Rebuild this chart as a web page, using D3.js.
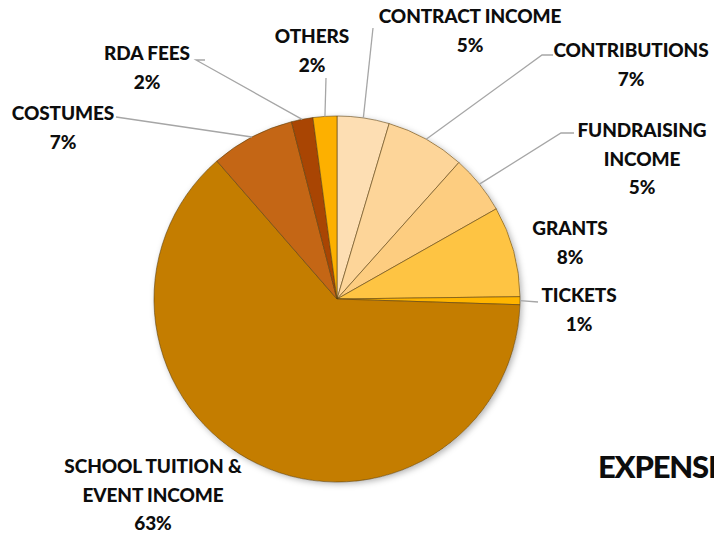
<!DOCTYPE html>
<html>
<head>
<meta charset="utf-8">
<script src="https://cdn.jsdelivr.net/npm/d3@7"></script>
<style>
  body { margin: 0; background: #fff; overflow: hidden; }
  text { font-family: Lato, "Open Sans", sans-serif; font-weight: 900; fill: #0d0d0d; }
</style>
</head>
<body>
<svg id="vis"></svg>
<script>
// slices, clockwise from 12 o'clock
const categories = ["CONTRACT INCOME", "CONTRIBUTIONS", "FUNDRAISING INCOME", "GRANTS", "TICKETS",
  "SCHOOL TUITION & EVENT INCOME", "COSTUMES", "RDA FEES", "OTHERS"];
const values = [4.6, 7.0, 5.2, 8.0, 0.7, 63.1, 7.4, 1.9, 2.1];
const colors = ["#fddeb3", "#fdd599", "#fdcd80", "#fec443", "#ffb500", "#c47d00", "#c46615", "#a94503", "#fdb000"];
// how the label text is broken into lines
const labelLines = [["CONTRACT INCOME"], ["CONTRIBUTIONS"], ["FUNDRAISING", "INCOME"], ["GRANTS"], ["TICKETS"],
  ["SCHOOL TUITION &", "EVENT INCOME"], ["COSTUMES"], ["RDA FEES"], ["OTHERS"]];

const width = 714, height = 535;
const cx = 337, cy = 299, r = 183;

// label placement: center x, first baseline, leader line points (null = no leader)
const labelLayout = [
  { x: 470, y: 23, leader: [[373, 28]] },
  { x: 631, y: 57, leader: [[553, 55], [542, 55]] },
  { x: 642, y: 137, leader: [[574, 133], [561, 133]] },
  { x: 570, y: 235, leader: null },
  { x: 579, y: 302, leader: [[538, 302]] },
  { x: 153, y: 473, leader: null },
  { x: 63, y: 120, leader: [[116, 117]] },
  { x: 147, y: 60, leader: [[205, 60], [196, 60]] },
  { x: 312, y: 43, leader: [[326, 78]] }
];

const data = categories.map((c, i) => ({ name: c, value: values[i], color: colors[i], lines: labelLines[i], lay: labelLayout[i] }));

const svg = d3.select("#vis")
  .attr("width", width)
  .attr("height", height);

const defs = svg.append("defs");
const f = defs.append("filter").attr("id", "shadow").attr("x", "-20%").attr("y", "-20%").attr("width", "140%").attr("height", "140%");
f.append("feDropShadow").attr("dx", 2).attr("dy", 2).attr("stdDeviation", 3).attr("flood-color", "#000").attr("flood-opacity", 0.3);

const pie = d3.pie().sort(null).value(d => d.value);
const arcs = pie(data);
const arc = d3.arc().innerRadius(0).outerRadius(r);

const g = svg.append("g").attr("transform", `translate(${cx},${cy})`);

g.append("circle").attr("r", r).attr("fill", "#fff").attr("filter", "url(#shadow)");

g.selectAll("path.slice")
  .data(arcs)
  .enter()
  .append("path")
  .attr("class", "slice")
  .attr("d", arc)
  .attr("fill", d => d.data.color)
  .attr("stroke", "#5c4210")
  .attr("stroke-width", 0.6)
  .attr("stroke-linejoin", "round");

// leader lines from label to the arc midpoint
const line = d3.line();
svg.append("g")
  .selectAll("path")
  .data(arcs.filter(d => d.data.lay.leader))
  .enter()
  .append("path")
  .attr("fill", "none")
  .attr("stroke", "#a6a6a6")
  .attr("stroke-width", 1.3)
  .attr("d", d => {
    const a = (d.startAngle + d.endAngle) / 2;
    const end = [cx + r * Math.sin(a), cy - r * Math.cos(a)];
    return line(d.data.lay.leader.concat([end]));
  });

// labels
const lbl = svg.append("g")
  .selectAll("text")
  .data(arcs)
  .enter()
  .append("text")
  .attr("text-anchor", "middle")
  .attr("font-size", 19);

lbl.each(function(d) {
  const t = d3.select(this);
  const rows = d.data.lines.concat([Math.round(d.data.value) + "%"]);
  rows.forEach((s, i) => {
    t.append("tspan")
      .attr("x", d.data.lay.x)
      .attr("y", d.data.lay.y + i * 28.5)
      .attr("letter-spacing", -0.1)
      .text(s);
  });
});

// second chart title, cut off at the right edge as in the source
svg.append("text")
  .attr("x", 598)
  .attr("y", 478)
  .attr("font-size", 31)
  .attr("letter-spacing", -1.2)
  .text("EXPENSES");
</script>
</body>
</html>
